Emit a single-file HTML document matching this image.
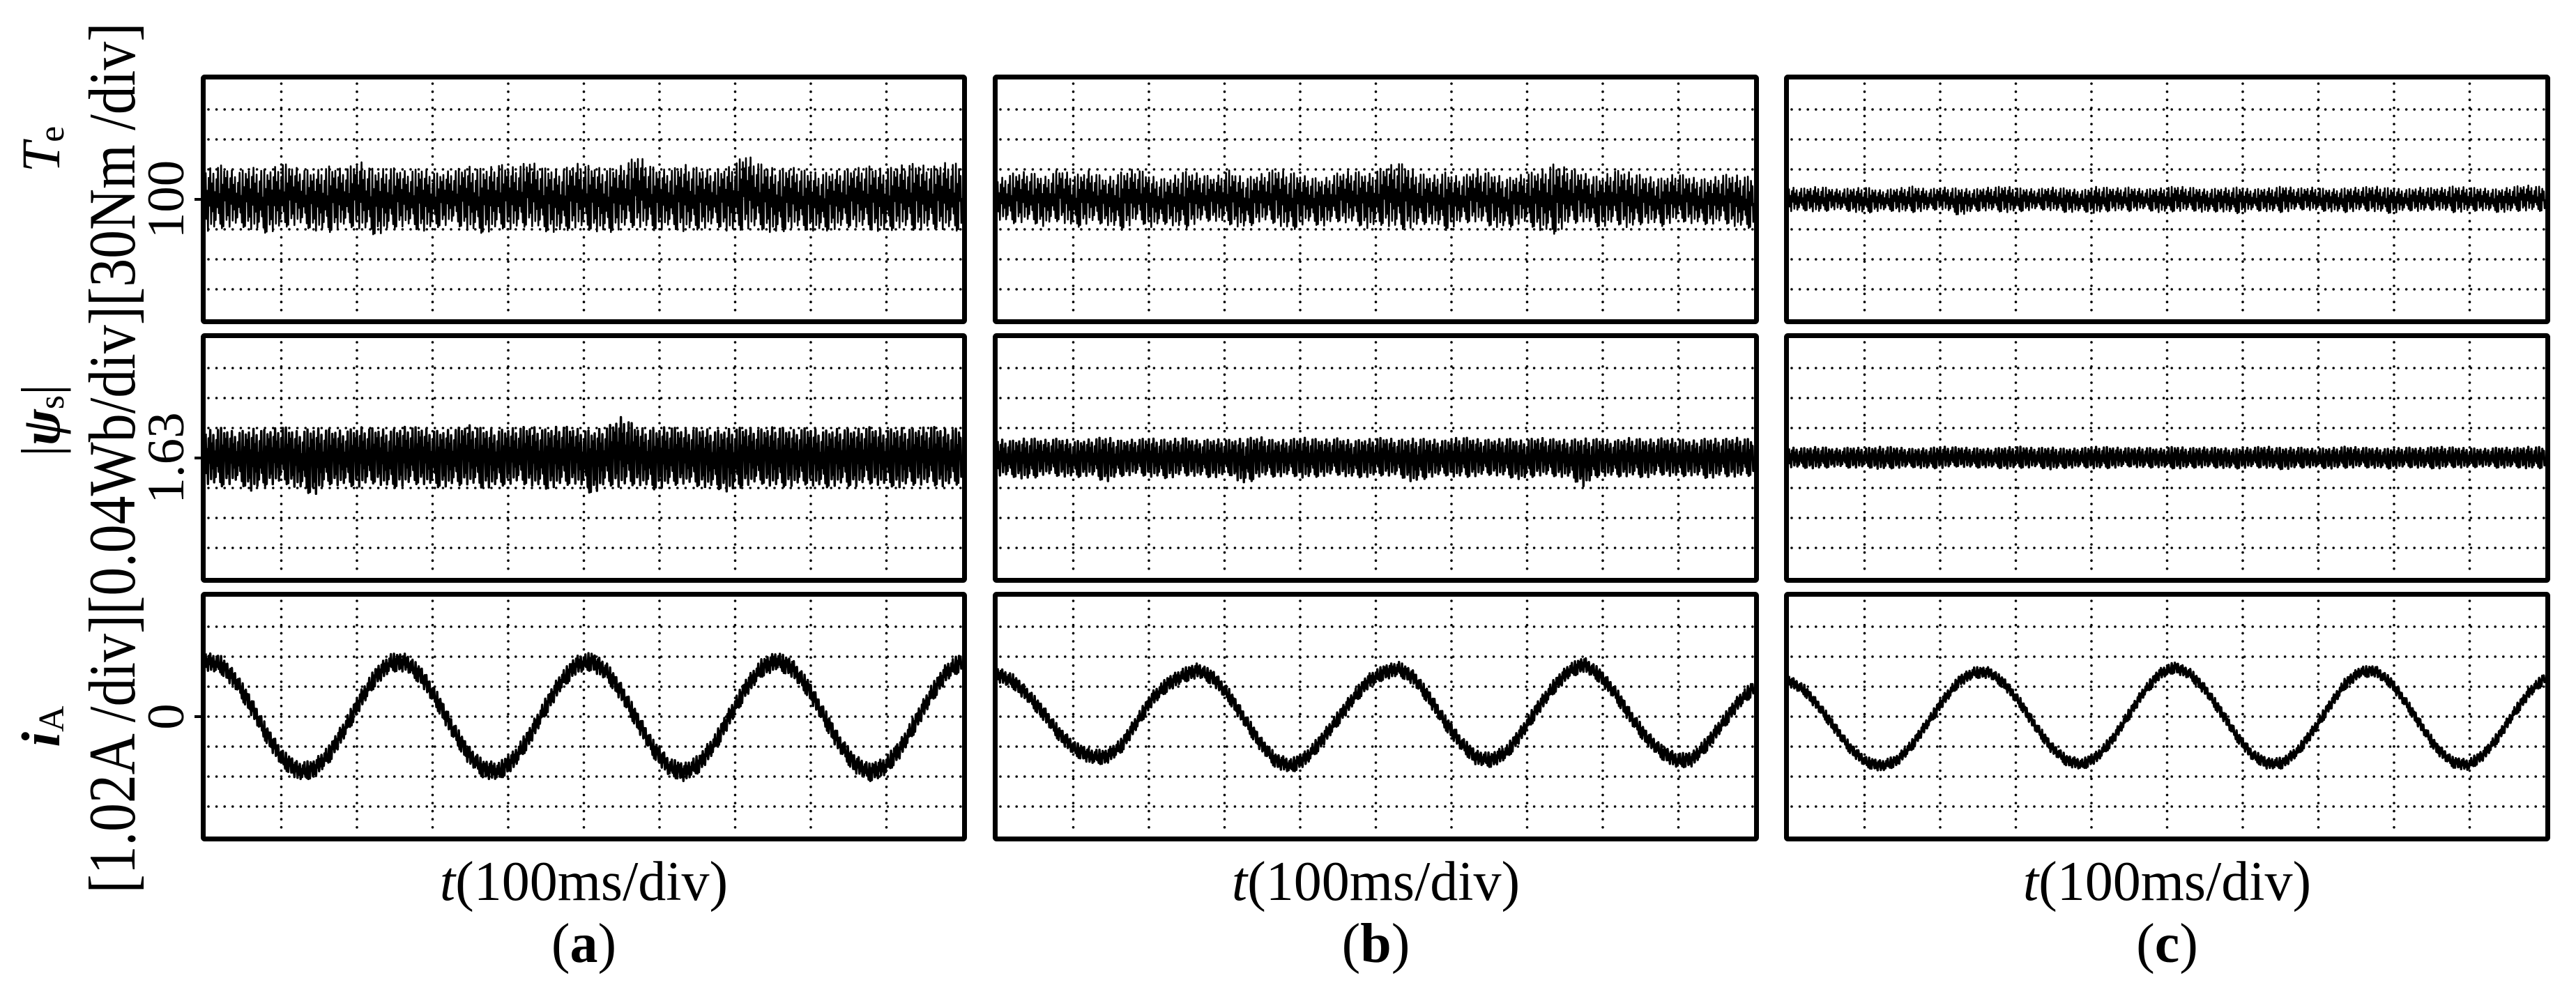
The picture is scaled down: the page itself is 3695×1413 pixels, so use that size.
<!DOCTYPE html>
<html><head><meta charset="utf-8"><style>
html,body{margin:0;padding:0;background:#fff;}
svg{display:block;font-family:"Liberation Serif",serif;}
</style></head><body>
<svg id="chart" width="3695" height="1413" viewBox="0 0 3695 1413" xmlns="http://www.w3.org/2000/svg">
<g id="labels">
  <text transform="translate(85,214) rotate(-90)" text-anchor="middle" font-size="78"><tspan font-style="italic">T</tspan><tspan font-size="52" dy="6">e</tspan></text>
  <text transform="translate(85,603) rotate(-90)" text-anchor="middle" font-size="78">|<tspan font-weight="bold" font-style="italic">ψ</tspan><tspan font-size="52" dy="6">s</tspan><tspan dy="-6">|</tspan></text>
  <text transform="translate(85,1042) rotate(-90)" text-anchor="middle" font-size="78"><tspan font-weight="bold" font-style="italic">i</tspan><tspan font-size="52" dy="6">A</tspan></text>
  <text transform="translate(193,657) rotate(-90)" text-anchor="middle" font-size="95" textLength="1249" lengthAdjust="spacingAndGlyphs">[1.02A /div][0.04Wb/div][30Nm /div]</text>
  <text transform="translate(263,286) rotate(-90)" text-anchor="middle" font-size="75">100</text>
  <text transform="translate(263,657) rotate(-90)" text-anchor="middle" font-size="75">1.63</text>
  <text transform="translate(263,1028) rotate(-90)" text-anchor="middle" font-size="75">0</text>
</g>
<g id="panels"></g>
</svg>
<script>
// ---- data ----
const timeLabel = "t(100ms/div)";
const panelNames = ["a","b","c"];
const refValues = [100, 1.63, 0];
const divSizes = [30, 0.04, 1.02];

const teHiA = [130,134,127,132,129,136,131,128,133,130,138,129,132,128,131,126,129,133,130,135,132,138,131,129,136,133,130,134,144,132,129,135,131,128,133,145,135,130,132,128,126,129,131,133,130,134,136,132,137,135];
const teLoA = [68,71,74,70,66,72,75,69,67,73,71,64,70,74,68,72,76,69,66,71,70,74,68,67,72,69,66,71,73,69,72,68,70,74,67,71,70,65,72,69,68,71,73,70,67,72,69,71,70,68];
const teHiB = [120,126,128,122,130,124,129,121,127,131,123,120,128,126,122,129,121,125,130,127,123,120,126,129,125,132,137,128,123,127,122,129,126,121,125,128,135,131,126,122,129,127,123,121,126,122,120,125,124,122];
const teLoB = [80,76,78,73,79,71,77,75,69,78,72,76,70,77,79,75,71,78,76,68,77,73,78,76,71,75,70,72,77,69,76,78,73,71,77,70,65,75,78,72,76,71,77,73,79,76,75,77,72,71];
const teHiC = [112,111,113,110,111,112,109,111,113,110,112,111,110,112,113,111,110,112,111,109,113,111,112,110,111,113,112,110,111,112,110,111,113,111,112,110,111,112,113,111,110,112,111,113,112,111,110,113,114,112];
const teLoC = [88,89,87,90,88,86,89,88,87,89,90,84,88,89,87,88,90,89,87,88,86,89,88,90,87,88,89,87,88,86,89,88,87,90,89,88,87,89,88,86,89,88,90,87,88,89,87,88,89,88];

const fluxHiA = [1.666,1.670,1.664,1.669,1.667,1.672,1.665,1.670,1.668,1.666,1.671,1.669,1.667,1.672,1.670,1.666,1.668,1.674,1.669,1.667,1.670,1.672,1.668,1.673,1.669,1.666,1.671,1.686,1.670,1.668,1.672,1.667,1.670,1.666,1.669,1.671,1.668,1.672,1.667,1.670,1.666,1.669,1.668,1.671,1.667,1.670,1.669,1.672,1.668,1.670];
const fluxLoA = [1.596,1.592,1.598,1.586,1.594,1.597,1.590,1.580,1.595,1.593,1.592,1.597,1.589,1.594,1.596,1.591,1.593,1.595,1.590,1.592,1.597,1.594,1.589,1.593,1.596,1.582,1.594,1.591,1.595,1.588,1.593,1.596,1.592,1.590,1.584,1.594,1.596,1.591,1.593,1.595,1.590,1.594,1.592,1.596,1.593,1.591,1.595,1.594,1.592,1.596];
const fluxHiB = [1.655,1.653,1.657,1.654,1.656,1.652,1.655,1.658,1.653,1.655,1.656,1.654,1.657,1.653,1.655,1.654,1.656,1.658,1.653,1.655,1.657,1.654,1.656,1.653,1.655,1.657,1.654,1.656,1.655,1.653,1.658,1.655,1.654,1.656,1.653,1.657,1.655,1.654,1.656,1.655,1.653,1.657,1.654,1.656,1.655,1.653,1.656,1.655,1.657,1.654];
const fluxLoB = [1.607,1.605,1.601,1.608,1.606,1.604,1.607,1.598,1.606,1.608,1.605,1.603,1.607,1.606,1.604,1.608,1.594,1.606,1.605,1.607,1.603,1.606,1.608,1.604,1.605,1.607,1.606,1.597,1.605,1.607,1.604,1.606,1.608,1.605,1.601,1.607,1.606,1.604,1.592,1.607,1.605,1.606,1.604,1.608,1.605,1.607,1.603,1.606,1.605,1.607];
const fluxHiC = [1.644,1.643,1.645,1.642,1.644,1.643,1.645,1.644,1.642,1.643,1.645,1.644,1.643,1.642,1.644,1.645,1.643,1.644,1.642,1.643,1.645,1.644,1.643,1.644,1.642,1.645,1.643,1.644,1.643,1.642,1.644,1.645,1.643,1.644,1.642,1.643,1.645,1.644,1.643,1.642,1.644,1.643,1.645,1.644,1.643,1.642,1.644,1.643,1.645,1.644];
const fluxLoC = [1.618,1.617,1.616,1.619,1.617,1.618,1.615,1.617,1.618,1.616,1.617,1.619,1.617,1.618,1.616,1.617,1.618,1.615,1.617,1.618,1.616,1.617,1.619,1.617,1.618,1.616,1.617,1.618,1.617,1.616,1.618,1.617,1.615,1.617,1.618,1.616,1.617,1.618,1.617,1.616,1.618,1.617,1.616,1.618,1.617,1.619,1.617,1.618,1.616,1.617];

const currA = [1.88,1.76,1.18,0.31,-0.66,-1.45,-1.86,-1.80,-1.28,-0.43,0.54,1.36,1.84,1.84,1.36,0.54,-0.43,-1.28,-1.80,-1.86,-1.45,-0.66,0.31,1.18,1.76,1.88,1.52,0.77,-0.18,-1.09,-1.71,-1.90,-1.59,-0.89,0.06,0.98,1.65,1.90,1.65,0.99,0.06,-0.88,-1.59,-1.90,-1.71,-1.09,-0.18,0.76,1.52,1.88];
const currB = [1.43,1.2,0.7,0.1,-0.6,-1.1,-1.35,-1.38,-1.0,-0.2,0.6,1.1,1.4,1.58,1.3,0.7,-0.1,-0.9,-1.5,-1.68,-1.4,-0.8,-0.1,0.6,1.2,1.5,1.63,1.3,0.6,-0.2,-0.9,-1.4,-1.48,-1.2,-0.5,0.3,1.0,1.55,1.78,1.4,0.8,0.0,-0.7,-1.2,-1.5,-1.45,-0.9,-0.2,0.5,1.0];
const currC = [1.22,0.9,0.3,-0.4,-1.1,-1.55,-1.68,-1.5,-0.95,-0.2,0.55,1.2,1.5,1.5,1.1,0.45,-0.35,-1.05,-1.5,-1.63,-1.35,-0.75,0.05,0.85,1.45,1.68,1.45,0.9,0.15,-0.65,-1.3,-1.6,-1.58,-1.15,-0.45,0.35,1.1,1.52,1.55,1.15,0.45,-0.35,-1.1,-1.55,-1.65,-1.3,-0.65,0.15,0.85,1.33];
const currNoise = [0.30, 0.24, 0.18];

// ---- layout ----
const NS = "http://www.w3.org/2000/svg";
const panelX = [288, 1424, 2559];
const panelW = 1099;
const rowY = [107, 478, 849];
const rowH = 358;
const B = 7;
const tex = [0.9,-0.6,0.3,-1,0.7,-0.2,1,-0.8,0.5,-0.4,0.8,-0.9,0.2,-0.7,0.6,-0.3,0.95,-0.5,0.1,-0.85,1,-1,0.4,-0.95,0.85,-0.1,0.65,-0.75];
const SUB = 20;

function mk(tag, attrs, parent){
  const e = document.createElementNS(NS, tag);
  for (const k in attrs) e.setAttribute(k, attrs[k]);
  parent.appendChild(e);
  return e;
}
function xScale(c, i, n){ const x0 = panelX[c] + B, w = panelW - 2*B; return x0 + w * i / (n - 1); }
function yScale(r, v){ const y0 = rowY[r] + B, h = rowH - 2*B; const divPx = h / 8; return y0 + h/2 - (v - refValues[r]) / divSizes[r] * divPx; }

const root = document.getElementById("panels");
const teHi = [teHiA, teHiB, teHiC], teLo = [teLoA, teLoB, teLoC];
const fxHi = [fluxHiA, fluxHiB, fluxHiC], fxLo = [fluxLoA, fluxLoB, fluxLoC];
const curr = [currA, currB, currC];

for (let c = 0; c < 3; c++) {
  for (let r = 0; r < 3; r++) {
    const g = mk("g", {}, root);
    
    
    const x0 = panelX[c] + B, y0 = rowY[r] + B, w = panelW - 2*B, h = rowH - 2*B;
    for (let k = 1; k < 10; k++) {
      const gx = x0 + w * k / 10;
      const l = mk("line", {x1: gx, y1: y0 + 6, x2: gx, y2: y0 + h - 4, stroke: "#000", "stroke-width": 3.6, "stroke-linecap": "round", "stroke-dasharray": "0 11.6"}, g);
      
      
    }
    for (let k = 1; k < 8; k++) {
      const gy = y0 + h * k / 8;
      const l = mk("line", {x1: x0 + 4, y1: gy, x2: x0 + w - 2, y2: gy, stroke: "#000", "stroke-width": 3.6, "stroke-linecap": "round", "stroke-dasharray": "0 11.6"}, g);
      
      
    }
    let pts = [];
    if (r < 2) {
      const hi = r === 0 ? teHi[c] : fxHi[c];
      const lo = r === 0 ? teLo[c] : fxLo[c];
      const n = hi.length;
      let t = 0;
      for (let i = 0; i < n - 1; i++) {
        for (let s = 0; s < SUB; s++) {
          const f = s / SUB;
          const hv = hi[i] + (hi[i+1] - hi[i]) * f;
          const lv = lo[i] + (lo[i+1] - lo[i]) * f;
          const tv = tex[t++ % tex.length];
          const v = (hv + lv) / 2 + tv * (hv - lv) / 2;
          pts.push(xScale(c, i + f, n).toFixed(1) + "," + yScale(r, v).toFixed(1));
        }
      }
      pts.push(xScale(c, n - 1, n).toFixed(1) + "," + yScale(r, (hi[n-1] + lo[n-1]) / 2).toFixed(1));
    } else {
      const d = curr[c], n = d.length, nz = currNoise[c];
      let t = 0;
      for (let i = 0; i < n - 1; i++) {
        for (let s = 0; s < SUB; s++) {
          const f = s / SUB;
          const v = d[i] + (d[i+1] - d[i]) * f + tex[t++ % tex.length] * nz;
          pts.push(xScale(c, i + f, n).toFixed(1) + "," + yScale(r, v).toFixed(1));
        }
      }
      pts.push(xScale(c, n - 1, n).toFixed(1) + "," + yScale(r, d[n-1]).toFixed(1));
    }
    const sw = r === 1 ? 3.4 : (r === 0 ? 2.6 : 3.4);
    const pl = mk("polyline", {points: pts.join(" "), fill: "none", stroke: "#000", "stroke-width": sw, "stroke-linejoin": "round"}, g);
    
    
    const fr = mk("rect", {x: panelX[c] + B/2, y: rowY[r] + B/2, width: panelW - B, height: rowH - B, fill: "none", stroke: "#000", "stroke-width": B, rx: 2}, g);
    
    
    if (c === 0) {
      const tk = mk("line", {x1: panelX[0] - 9, y1: y0 + h/2, x2: panelX[0], y2: y0 + h/2, stroke: "#000", "stroke-width": 4}, g);
      
      
    }
  }
  const cx = panelX[c] + panelW / 2;
  const xt = mk("text", {x: cx, y: 1291, "text-anchor": "middle", "font-size": 80}, root);
  
  
  const ts = mk("tspan", {"font-style": "italic"}, xt); ts.textContent = timeLabel[0];
  const ts2 = mk("tspan", {}, xt); ts2.textContent = timeLabel.slice(1);
  const cap = mk("text", {x: cx, y: 1380, "text-anchor": "middle", "font-size": 80}, root);
  
  
  const c1 = mk("tspan", {}, cap); c1.textContent = "(";
  const c2 = mk("tspan", {"font-weight": "bold"}, cap); c2.textContent = panelNames[c];
  const c3 = mk("tspan", {}, cap); c3.textContent = ")";
}
</script>
</body></html>
